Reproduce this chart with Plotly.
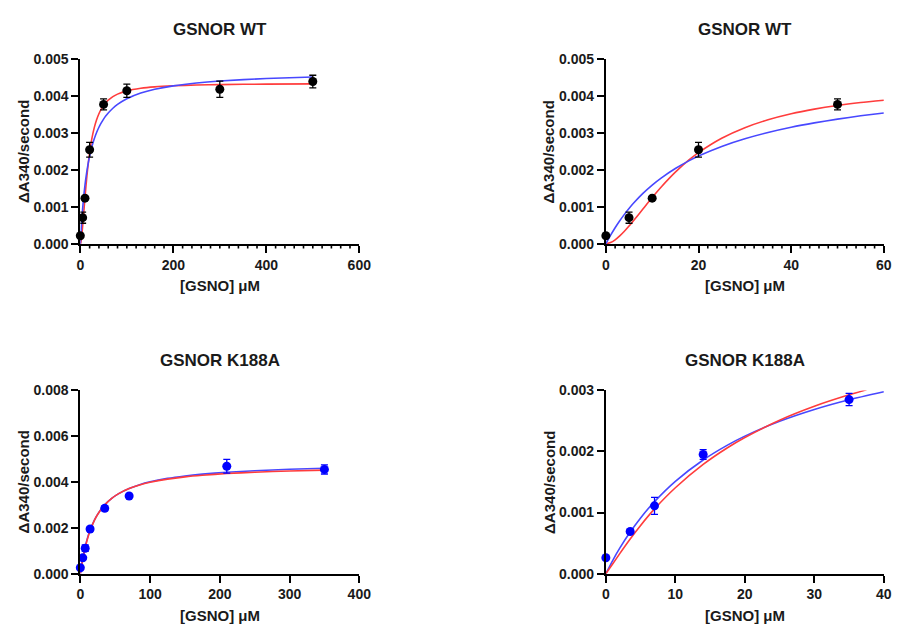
import plotly.graph_objects as go

# ---------------- data ----------------
# GSNOR WT measured points
wt_x = [0, 5, 10, 20, 50, 100, 300, 500]
wt_y = [0.00022, 0.00071, 0.00124, 0.00255, 0.00378, 0.00415, 0.00419, 0.00440]
wt_err = [0.0, 0.00015, 0.00004, 0.00020, 0.00015, 0.00018, 0.00022, 0.00017]

# GSNOR WT fitted curves
wt_fit_x = [0, 1, 2, 3, 4, 5, 6, 8, 10, 12, 15, 18, 20, 25, 30, 35, 40, 45, 50,
            55, 60, 70, 80, 100, 130, 160, 200, 250, 300, 400, 500]
wt_blue_y = [0, 0.000229, 0.000437, 0.000627, 0.000800, 0.000959, 0.001106, 0.001367,
             0.001593, 0.001790, 0.002043, 0.002256, 0.002380, 0.002640, 0.002848,
             0.003018, 0.003160, 0.003279, 0.003381, 0.003470, 0.003547, 0.003676,
             0.003779, 0.003933, 0.004087, 0.004189, 0.004282, 0.004360, 0.004413,
             0.004482, 0.004524]
wt_red_y = [0, 0.000035, 0.000111, 0.000217, 0.000342, 0.000483, 0.000633, 0.000945,
            0.001256, 0.001549, 0.001944, 0.002281, 0.002474, 0.002864, 0.003150,
            0.003364, 0.003527, 0.003652, 0.003751, 0.003830, 0.003894, 0.003990,
            0.004058, 0.004146, 0.004217, 0.004256, 0.004285, 0.004305, 0.004317,
            0.004330, 0.004336]

# GSNOR K188A measured points
k_x = [0, 3.5, 7, 14, 35, 70, 210, 350]
k_y = [0.00026, 0.00069, 0.00111, 0.00195, 0.00285, 0.00339, 0.00469, 0.00455]
k_err = [0.0, 0.00003, 0.00014, 0.00008, 0.00010, 0.00005, 0.00030, 0.00020]

# GSNOR K188A fitted curves, full range
k_fit_x = [0, 1, 2, 3.5, 5, 7, 10, 14, 20, 25, 35, 45, 55, 70, 85, 100, 125,
           150, 175, 210, 250, 300, 350]
k_blue_y = [0, 0.000213, 0.000408, 0.000671, 0.000906, 0.001180, 0.001528, 0.001902,
            0.002329, 0.002601, 0.003003, 0.003284, 0.003493, 0.003721, 0.003885,
            0.004008, 0.004158, 0.004265, 0.004344, 0.004426, 0.004494, 0.004556,
            0.004601]
k_red_y = [0, 0.000181, 0.000363, 0.000618, 0.000852, 0.001130, 0.001487, 0.001872,
           0.002314, 0.002594, 0.003003, 0.003286, 0.003492, 0.003713, 0.003871,
           0.003988, 0.004127, 0.004225, 0.004296, 0.004370, 0.004429, 0.004483,
           0.004521]

# GSNOR K188A fitted curves, low range panel
kz_blue_x = [0, 1, 2, 3.5, 5, 7, 10, 14, 17.5, 20, 25, 30, 35, 40]
kz_blue_y = [0, 0.000219, 0.000417, 0.000681, 0.000913, 0.001180, 0.001512, 0.001861,
             0.002104, 0.002251, 0.002494, 0.002688, 0.002847, 0.002978]
kz_red_x = [0, 1, 2, 3.5, 5, 7, 10, 14, 17.5, 20, 25, 30, 35, 37.5]
kz_red_y = [0, 0.000161, 0.000328, 0.000568, 0.000790, 0.001060, 0.001406, 0.001788,
            0.002061, 0.002229, 0.002512, 0.002740, 0.002927, 0.003009]

titles = ["GSNOR WT", "GSNOR WT", "GSNOR K188A", "GSNOR K188A"]
x_title = "[GSNO] μM"
y_title = "ΔA340/second"

# ---------------- styles ----------------
RED = "rgb(255,60,60)"
BLUE = "rgb(72,72,255)"
FONT = "Liberation Sans, Arial, sans-serif"
TXT = "#1a1a1a"
W, H = 904, 634


def px_x(p):
    return p / W


def px_y(p):
    return 1 - p / H


panels = [
    dict(xd=(77.7, 361.7), yd=(52.7, 242.0), xr=[0, 600], yr=[0, 0.005], xdt=200, ydt=0.001, minor=20),
    dict(xd=(612.7, 895.7), yd=(52.7, 242.0), xr=[0, 60], yr=[0, 0.005], xdt=20, ydt=0.001, minor=2),
    dict(xd=(77.7, 361.7), yd=(392.3, 580.3), xr=[0, 400], yr=[0, 0.008], xdt=100, ydt=0.002, minor=None),
    dict(xd=(612.7, 895.7), yd=(392.3, 580.3), xr=[0, 40], yr=[0, 0.003], xdt=10, ydt=0.001, minor=None),
]

fig = go.Figure()


def keep(xs, ys, xmax, errs=None):
    idx = [i for i, v in enumerate(xs) if v <= xmax]
    out = ([xs[i] for i in idx], [ys[i] for i in idx])
    if errs is not None:
        out = out + ([errs[i] for i in idx],)
    return out


def add_panel(k, curves, pts, color):
    ax = "" if k == 0 else str(k + 1)
    xmax = panels[k]["xr"][1]
    for cx, cy, col in curves:
        fx, fy = keep(cx, cy, xmax)
        fig.add_trace(go.Scatter(x=fx, y=fy, mode="lines",
                                 line=dict(color=col, width=1.6, shape="spline", smoothing=0.6),
                                 xaxis="x" + ax, yaxis="y" + ax, showlegend=False, hoverinfo="skip"))
    px_, py_, pe_ = keep(pts[0], pts[1], xmax, pts[2])
    fig.add_trace(go.Scatter(x=px_, y=py_, mode="markers", marker=dict(color=color, size=9),
                             error_y=dict(type="data", array=pe_, visible=True, color=color,
                                          thickness=1.3, width=3.5),
                             cliponaxis=False, xaxis="x" + ax, yaxis="y" + ax, showlegend=False))


add_panel(0, [(wt_fit_x, wt_red_y, RED), (wt_fit_x, wt_blue_y, BLUE)], (wt_x, wt_y, wt_err), "black")
add_panel(1, [(wt_fit_x, wt_red_y, RED), (wt_fit_x, wt_blue_y, BLUE)], (wt_x, wt_y, wt_err), "black")
add_panel(2, [(k_fit_x, k_blue_y, BLUE), (k_fit_x, k_red_y, RED)], (k_x, k_y, k_err), "blue")
add_panel(3, [(kz_blue_x, kz_blue_y, BLUE), (kz_red_x, kz_red_y, RED)], (k_x, k_y, k_err), "blue")

layout = dict(width=W, height=H, margin=dict(l=0, r=0, t=0, b=0),
              paper_bgcolor="white", plot_bgcolor="white",
              font=dict(family=FONT, color=TXT), showlegend=False)

annotations = []
for k, p in enumerate(panels):
    ax = "" if k == 0 else str(k + 1)
    xdom = [px_x(p["xd"][0]), px_x(p["xd"][1])]
    xa = dict(domain=xdom, range=p["xr"], dtick=p["xdt"], tick0=0,
              anchor="y" + ax, showline=True, linecolor="black", linewidth=2, ticks="outside",
              ticklen=7, tickwidth=2, tickcolor="black", showgrid=False, zeroline=False,
              tickfont=dict(family=FONT, size=14, color=TXT, weight="bold"))
    ya = dict(domain=[px_y(p["yd"][1]), px_y(p["yd"][0])], range=p["yr"], dtick=p["ydt"], tick0=0,
              anchor="x" + ax, showline=True, linecolor="black", linewidth=2, ticks="outside",
              ticklen=7, tickwidth=2, tickcolor="black", showgrid=False, zeroline=False,
              tickformat=".3f", tickfont=dict(family=FONT, size=14, color=TXT, weight="bold"))
    layout["xaxis" + ax] = xa
    layout["yaxis" + ax] = ya

    # minor ticks drawn as short arrow-less annotation lines hanging below the x axis
    if p["minor"]:
        step = p["minor"]
        n = int(round((p["xr"][1] - p["xr"][0]) / step))
        for i in range(n + 1):
            v = p["xr"][0] + i * step
            if abs((v / p["xdt"]) - round(v / p["xdt"])) < 1e-9:
                continue
            annotations.append(dict(x=v, y=p["yr"][0], xref="x" + ax, yref="y" + ax, text="",
                                    showarrow=True, arrowhead=0, arrowwidth=1.6, arrowcolor="black",
                                    ax=0, ay=6, standoff=0, startstandoff=0,
                                    font=dict(size=1)))

    cx = (p["xd"][0] + p["xd"][1]) / 2
    top = p["yd"][0]
    bot = p["yd"][1]
    annotations.append(dict(text=titles[k], x=px_x(cx), y=px_y(top - 31), xref="paper", yref="paper",
                            showarrow=False, xanchor="center", yanchor="middle",
                            font=dict(family=FONT, size=17, color=TXT, weight="bold")))
    annotations.append(dict(text=x_title, x=px_x(cx), y=px_y(bot + 43), xref="paper", yref="paper",
                            showarrow=False, xanchor="center", yanchor="middle",
                            font=dict(family=FONT, size=15, color=TXT, weight="bold")))
    annotations.append(dict(text=y_title, x=px_x(p["xd"][0] - 58), y=px_y((top + bot) / 2),
                            xref="paper", yref="paper", showarrow=False, xanchor="center",
                            yanchor="middle", textangle=-90,
                            font=dict(family=FONT, size=15, color=TXT, weight="bold")))

layout["annotations"] = annotations
fig.update_layout(**layout)
fig.write_html("out.html")
